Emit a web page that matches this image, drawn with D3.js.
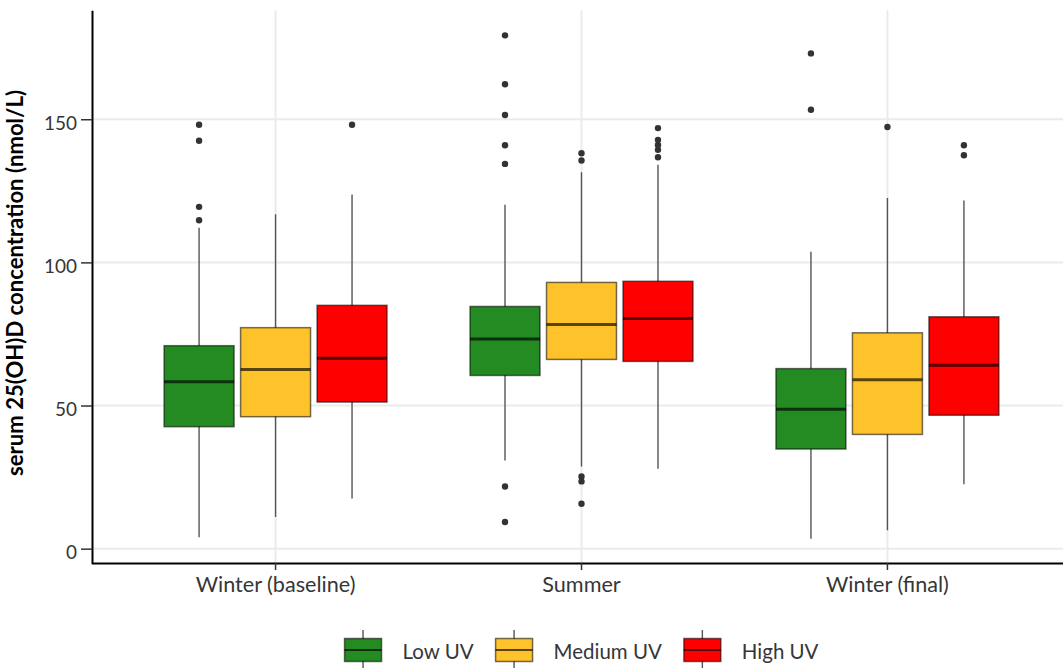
<!DOCTYPE html>
<html><head><meta charset="utf-8">
<script src="https://cdn.jsdelivr.net/npm/d3@7"></script>
<style>body{margin:0;background:#fff}svg{display:block}</style>
</head><body>
<svg id="chart" width="1063" height="668"></svg>
<script>
// ---- data ----
const categories = ["Winter (baseline)", "Summer", "Winter (final)"];
const series = ["Low UV", "Medium UV", "High UV"];
const seriesColors = ["#238B22", "#FEC22A", "#FF0000"];
const yTicks = [0, 50, 100, 150];
const yTitle = "serum 25(OH)D concentration (nmol/L)";
// rows = categories, columns = series (Low, Medium, High)
const whiskerLow  = [[4.0, 11.1, 17.5], [30.8, 28.7, 27.9], [3.5, 6.4, 22.5]];
const q1          = [[42.6, 46.1, 51.2], [60.5, 66.1, 65.4], [34.8, 39.9, 46.6]];
const median      = [[58.3, 62.6, 66.5], [73.2, 78.3, 80.4], [48.7, 59.0, 64.1]];
const q3          = [[70.9, 77.2, 85.0], [84.6, 93.0, 93.4], [62.9, 75.4, 81.0]];
const whiskerHigh = [[112.1, 116.8, 123.7], [120.1, 131.5, 134.1], [103.7, 122.5, 121.6]];
const outliers = [
  [[114.7, 119.4, 142.5, 148.1], [], [148.1]],
  [[9.3, 21.7, 134.4, 140.9, 151.5, 162.2, 179.3], [15.7, 23.5, 25.2, 135.6, 138.1], [136.7, 139.3, 141.0, 142.8, 146.9]],
  [[153.3, 173.0], [147.3], [137.4, 140.9]]
];

// ---- layout ----
const W = 1063, H = 668;
const panel = {left: 92, right: 1071, top: 10.2, bottom: 563.8};
const FONT = "Lato, 'Open Sans', sans-serif";
const textColor = "#363636";
const svg = d3.select("#chart");

function fitSize(str, target, weight) {
  const t = svg.append("text").attr("font-family", FONT).attr("font-size", 20)
    .attr("font-weight", weight || "normal").text(str);
  const w = t.node().getComputedTextLength();
  t.remove();
  return 20 * target / w;
}

const allVals = [...whiskerLow.flat(), ...whiskerHigh.flat(), ...outliers.flat(2)];
const lo = d3.min(allVals), hi = d3.max(allVals), pad = (hi - lo) * 0.05;
const y = d3.scaleLinear().domain([lo - pad, hi + pad]).range([panel.bottom, panel.top]);
const x = d3.scaleBand().domain(categories).range([panel.left, panel.right])
  .paddingInner(0).paddingOuter(0.1);
const step = x.step();
const xs = d3.scaleBand().domain(series).range([-0.375 * step, 0.375 * step]);
const boxW = xs.bandwidth() * 0.915;
const cx = c => x(c) + x.bandwidth() / 2;
const sx = s => xs(s) + xs.bandwidth() / 2;

// gridlines
const grid = svg.append("g");
grid.selectAll(".hg").data(yTicks).join("line")
  .attr("x1", panel.left).attr("x2", W).attr("y1", d => y(d)).attr("y2", d => y(d))
  .attr("stroke", "#ebebeb").attr("stroke-width", 2);
grid.selectAll(".vg").data(categories).join("line")
  .attr("x1", d => cx(d)).attr("x2", d => cx(d)).attr("y1", panel.top).attr("y2", panel.bottom)
  .attr("stroke", "#ebebeb").attr("stroke-width", 2);

// boxes
const items = [];
categories.forEach((c, i) => series.forEach((s, j) => items.push({c, s, i, j})));
const bx = svg.append("g").selectAll("g").data(items).join("g")
  .attr("transform", d => `translate(${cx(d.c) + sx(d.s)},0)`);
bx.append("line")
  .attr("y1", d => y(whiskerLow[d.i][d.j])).attr("y2", d => y(whiskerHigh[d.i][d.j]))
  .attr("stroke", "#555").attr("stroke-width", 1.4);
bx.append("rect")
  .attr("x", -boxW / 2).attr("width", boxW)
  .attr("y", d => y(q3[d.i][d.j])).attr("height", d => y(q1[d.i][d.j]) - y(q3[d.i][d.j]))
  .attr("fill", d => seriesColors[d.j])
  .attr("stroke", "#000").attr("stroke-opacity", 0.55).attr("stroke-width", 1.5);
bx.append("line")
  .attr("x1", -boxW / 2).attr("x2", boxW / 2)
  .attr("y1", d => y(median[d.i][d.j])).attr("y2", d => y(median[d.i][d.j]))
  .attr("stroke", "#000").attr("stroke-opacity", 0.65).attr("stroke-width", 3);
bx.selectAll("circle").data(d => outliers[d.i][d.j]).join("circle")
  .attr("cx", 0).attr("cy", v => y(v)).attr("r", 3.2).attr("fill", "#333");

// axes
const tickFs = fitSize("150", 33);
const yAxis = svg.append("g").attr("transform", `translate(${panel.left},0)`)
  .call(d3.axisLeft(y).tickValues(yTicks).tickSize(11).tickPadding(4).tickSizeOuter(0));
yAxis.select(".domain").attr("stroke", "#000").attr("stroke-width", 2);
yAxis.selectAll(".tick line").attr("stroke", "#333").attr("stroke-width", 1.5);
yAxis.selectAll(".tick text").attr("font-family", FONT).attr("font-size", tickFs)
  .attr("fill", textColor).attr("dy", 0).attr("y", 10);

const xFs = fitSize("Winter (baseline)", 160);
const xAxis = svg.append("g").attr("transform", `translate(0,${panel.bottom - 0.8})`)
  .call(d3.axisBottom(x).tickSize(7).tickSizeOuter(0));
xAxis.select(".domain").attr("stroke", "#000").attr("stroke-width", 2);
xAxis.selectAll(".tick line").attr("stroke", "#333").attr("stroke-width", 1.5);
xAxis.selectAll(".tick text").attr("font-family", FONT).attr("font-size", xFs)
  .attr("fill", textColor).attr("dy", 0).attr("y", 592 - (panel.bottom - 0.8));

// y title
const titleFs = fitSize(yTitle, 386, "bold");
svg.append("text")
  .attr("transform", `translate(23,${283}) rotate(-90)`)
  .attr("text-anchor", "middle").attr("font-family", FONT).attr("font-weight", "bold")
  .attr("font-size", titleFs).attr("fill", "#000").text(yTitle);

// legend
const legFs = fitSize("Medium UV", 108.3);
const keyW = 37, keyH = 23, gapKT = 21, gapTK = 22;
const legY = 650;
const widths = series.map(s => {
  const t = svg.append("text").attr("font-family", FONT).attr("font-size", legFs).text(s);
  const w = t.node().getComputedTextLength(); t.remove(); return w;
});
const total = series.length * (keyW + gapKT) + d3.sum(widths) + (series.length - 1) * gapTK;
let lx = (panel.left + panel.right) / 2 - total / 2;
const legend = svg.append("g");
series.forEach((s, j) => {
  const g = legend.append("g").attr("transform", `translate(${lx},0)`);
  g.append("line").attr("x1", keyW / 2).attr("x2", keyW / 2)
    .attr("y1", legY - 20).attr("y2", legY + 20).attr("stroke", "#555").attr("stroke-width", 1.4);
  g.append("rect").attr("x", 0).attr("y", legY - keyH / 2).attr("width", keyW).attr("height", keyH)
    .attr("fill", seriesColors[j]).attr("stroke", "#000").attr("stroke-opacity", 0.55).attr("stroke-width", 1.5);
  g.append("line").attr("x1", 0).attr("x2", keyW).attr("y1", legY).attr("y2", legY)
    .attr("stroke", "#000").attr("stroke-opacity", 0.65).attr("stroke-width", 2);
  g.append("text").attr("x", keyW + gapKT).attr("y", 659.3)
    .attr("font-family", FONT).attr("font-size", legFs).attr("fill", textColor).text(s);
  lx += keyW + gapKT + widths[j] + gapTK;
});
</script>
</body></html>
